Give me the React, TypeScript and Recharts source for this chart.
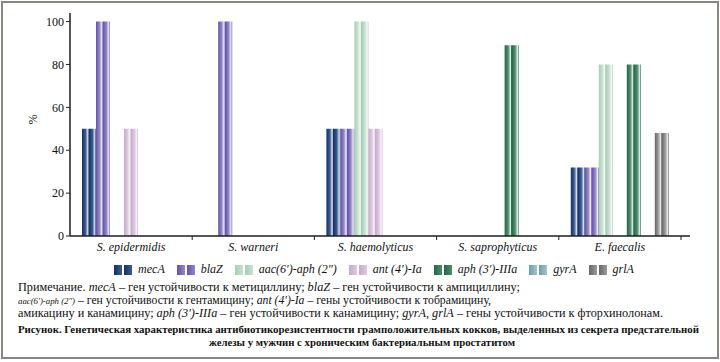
import React from 'react';
import { BarChart, Bar, XAxis, YAxis } from 'recharts';

const CATEGORIES = ['S. epidermidis', 'S. warneri', 'S. haemolyticus', 'S. saprophyticus', 'E. faecalis'];

const MEC_A = [50, 0, 50, 0, 32];
const BLA_Z = [100, 100, 50, 0, 32];
const AAC = [0, 0, 100, 0, 80];
const ANT = [50, 0, 50, 0, 0];
const APH = [0, 0, 0, 89, 80];
const GYR_A = [0, 0, 0, 0, 0];
const GRL_A = [0, 0, 0, 0, 48];

const Y_TICKS = [0, 20, 40, 60, 80, 100];

const SERIES = [
  { key: 'mecA', label: 'mecA', dark: '#17305c', mid: '#3d5c96', light: '#dfe6f3' },
  { key: 'blaZ', label: 'blaZ', dark: '#6352a6', mid: '#9488c8', light: '#efedf8' },
  { key: 'aac', label: 'aac(6′)-aph (2″)', dark: '#a7ccb4', mid: '#c9e1d1', light: '#f6faf7' },
  { key: 'ant', label: 'ant (4′)-Ia', dark: '#c7aacd', mid: '#ddc9e0', light: '#faf5fa' },
  { key: 'aph', label: 'aph (3′)-IIIa', dark: '#256548', mid: '#4e8c6c', light: '#dcebe2' },
  { key: 'gyrA', label: 'gyrA', dark: '#6f9ea8', mid: '#a3c4cb', light: '#e8f1f3' },
  { key: 'grlA', label: 'grlA', dark: '#666666', mid: '#9c9c9c', light: '#e9e9e9' },
];

const data = CATEGORIES.map((name, i) => ({
  name,
  mecA: MEC_A[i],
  blaZ: BLA_Z[i],
  aac: AAC[i],
  ant: ANT[i],
  aph: APH[i],
  gyrA: GYR_A[i],
  grlA: GRL_A[i],
}));

const FONT = "'Liberation Serif', 'Times New Roman', serif";

const XTick = (props: any) => {
  const { x, y, payload } = props;
  const half = payload && payload.offset ? payload.offset : 61;
  return (
    <g>
      <line x1={x + half} x2={x + half} y1={y} y2={y + 4} stroke="#222" strokeWidth={1} />
      <text x={x} y={y + 15} textAnchor="middle" fontStyle="italic" fontSize={12} fontFamily={FONT} fill="#111">
        {payload.value}
      </text>
    </g>
  );
};

// legend sits outside the chart so it doesn't shrink the plot area
const ChartLegend = () => (
  <div style={{ position: 'absolute', top: 262, left: 14, width: 720, display: 'flex', justifyContent: 'center', alignItems: 'center', fontFamily: FONT, fontStyle: 'italic', fontSize: 12, color: '#111' }}>
    {SERIES.map((s, i) => (
      <div key={s.key} style={{ display: 'flex', alignItems: 'center', marginLeft: i === 0 ? 0 : 12 }}>
        <svg width={18} height={10} style={{ marginRight: 6 }}>
          <defs>
            <linearGradient id={`lg${i}`} x1="0" y1="0" x2="1" y2="0">
              <stop offset="0%" stopColor={s.dark} />
              <stop offset="100%" stopColor={s.mid} />
            </linearGradient>
          </defs>
          <rect x={0} y={0} width={8} height={10} fill={`url(#lg${i})`} />
          <rect x={10} y={0} width={8} height={10} fill={`url(#lg${i})`} />
        </svg>
        <span>{s.label}</span>
      </div>
    ))}
  </div>
);

export default function App() {
  return (
    <div style={{ position: 'absolute', left: 0, top: 0, width: 720, height: 362, background: '#fff' }}>
      <div style={{ position: 'absolute', left: 1, top: 1, width: 714, height: 354, border: '2px solid #8a857e' }} />
      <div style={{ position: 'absolute', left: 0, top: 0 }}>
        <BarChart
          width={720}
          height={260}
          data={data}
          margin={{ top: 13, right: 30, left: 30, bottom: 4 }}
          barGap={0}
        >
          <defs>
            {SERIES.map((s, i) => (
              <linearGradient key={s.key} id={`g${i}`} x1="0" y1="0" x2="1" y2="0">
                <stop offset="0%" stopColor={s.dark} />
                <stop offset="25%" stopColor={s.mid} />
                <stop offset="42%" stopColor={s.light} />
                <stop offset="50%" stopColor={s.dark} />
                <stop offset="75%" stopColor={s.mid} />
                <stop offset="92%" stopColor={s.light} />
                <stop offset="100%" stopColor={s.dark} />
              </linearGradient>
            ))}
          </defs>
          <XAxis
            dataKey="name"
            tick={<XTick />}
            tickLine={false}
            tickSize={0}
            tickMargin={0}
            height={20}
            padding={{ left: 0, right: 9 }}
            axisLine={{ stroke: '#1e1e1e', strokeWidth: 1.5 }}
            interval={0}
          />
          <YAxis
            domain={[0, 104]}
            ticks={Y_TICKS}
            width={40}
            tickSize={4}
            axisLine={{ stroke: '#1e1e1e', strokeWidth: 1.5 }}
            tickLine={{ stroke: '#1e1e1e' }}
            tick={{ fontSize: 12, fontFamily: FONT, fill: '#111' }}
            label={{ value: '%', angle: -90, position: 'insideLeft', offset: 3, style: { fontFamily: FONT, fontSize: 12, fill: '#111' } }}
          />
          {SERIES.map((s, i) => (
            <Bar key={s.key} dataKey={s.key} fill={`url(#g${i})`} barSize={14} isAnimationActive={false} />
          ))}
        </BarChart>
      </div>
      <ChartLegend />
      <svg width={720} height={362} style={{ position: 'absolute', left: 0, top: 0, pointerEvents: 'none' }} fontFamily={FONT} fill="#111">
        <text x={18} y={291} fontSize={12} textLength={502} lengthAdjust="spacingAndGlyphs">
          Примечание. <tspan fontStyle="italic">mecA</tspan> – ген устойчивости к метициллину; <tspan fontStyle="italic">blaZ</tspan> – ген устойчивости к ампициллину;
        </text>
        <text x={18} y={304} fontSize={12} textLength={473} lengthAdjust="spacingAndGlyphs">
          <tspan fontStyle="italic" fontSize={9}>aac(6′)-aph (2″)</tspan> – ген устойчивости к гентамицину; <tspan fontStyle="italic">ant (4′)-Ia</tspan> – гены устойчивости к тобрамицину,
        </text>
        <text x={18} y={317} fontSize={12} textLength={645} lengthAdjust="spacingAndGlyphs">
          амикацину и канамицину; <tspan fontStyle="italic">aph (3′)-IIIa</tspan> – ген устойчивости к канамицину; <tspan fontStyle="italic">gyrA, grlA</tspan> – гены устойчивости к фторхинолонам.
        </text>
        <text x={18} y={333} fontSize={11} fontWeight="bold" textLength={681} lengthAdjust="spacingAndGlyphs">
          Рисунок. Генетическая характеристика антибиотикорезистентности грамположительных кокков, выделенных из секрета предстательной
        </text>
        <text x={209} y={346} fontSize={11} fontWeight="bold" textLength={306} lengthAdjust="spacingAndGlyphs">
          железы у мужчин с хроническим бактериальным простатитом
        </text>
      </svg>
    </div>
  );
}
